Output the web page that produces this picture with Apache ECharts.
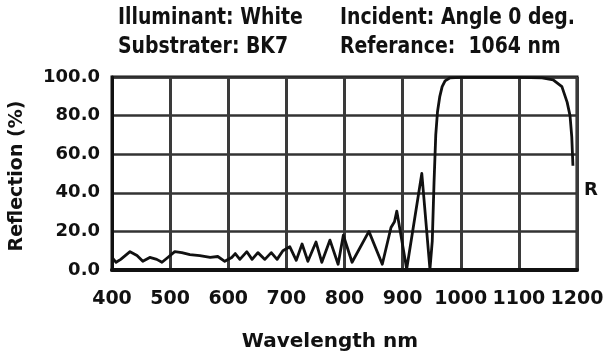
<!DOCTYPE html>
<html><head><meta charset="utf-8">
<script src="https://cdn.jsdelivr.net/npm/echarts@6/dist/echarts.min.js"></script>
<style>html,body{margin:0;padding:0;background:#fff}#c{width:610px;height:356px}</style>
</head><body><div id="c"></div>
<script>
// Wavelength (nm) sample points
var wavelengths = [400,407,415,431,443,453,465,477,486,496,508,520,534,551,569,582,594,606,612,620,632,641,651,663,674,684,694,706,717,727,737,751,761,775,789,798,813,842,865,880,886,890,907,933,947,951,954,957,960,964,968,973,981,1000,1050,1100,1140,1159,1174,1183,1188,1191,1193];
// Reflection (%) values
var reflection = [6.5,4,5.5,9.5,7.5,4.5,6.5,5.5,4,6.5,9.5,9,8,7.5,6.5,7,4.5,6.5,8.5,5.5,9.5,5.5,9,5.5,9,5.5,10,12,5,13.5,4.5,14.5,4,15.5,3,18,4,20,3,22,25,30.5,0.5,50,0.5,15,45,70,82,90,95,98,99.5,99.8,99.8,99.8,99.5,98.5,95,87,80,69,54];
var xTicks = [400,500,600,700,800,900,1000,1100,1200];
var yTicks = ['0.0','20.0','40.0','60.0','80.0','100.0'];
var headerLeft = ['Illuminant: White','Substrater: BK7'];
var headerRight = ['Incident: Angle 0 deg.','Referance:  1064 nm'];
var xName = 'Wavelength nm';
var yName = 'Reflection (%)';
var seriesName = 'R';

var pts = wavelengths.map(function(w,i){return [w, reflection[i]];});
var F = 'DejaVu Sans';
var chart = echarts.init(document.getElementById('c'), null, {renderer:'canvas'});
function hdr(t, x, y){
  return {type:'text', x:x, y:y, scaleX:0.82, style:{text:t, font:'bold 23px "DejaVu Sans"', fill:'#111', verticalAlign:'middle'}};
}
chart.setOption({
  animation:false,
  grid:{left:112, top:77, width:465, height:193, show:true, borderColor:'#111', borderWidth:3, containLabel:false},
  xAxis:{type:'value', min:400, max:1200, interval:100,
    axisLine:{show:true, lineStyle:{color:'#111', width:4}},
    axisTick:{show:false},
    splitLine:{show:true, lineStyle:{color:'#3a3a3a', width:3}},
    axisLabel:{margin:20, fontFamily:F, fontWeight:'bold', fontSize:19, color:'#111', showMinLabel:true, showMaxLabel:true,
      formatter:function(v){var i=xTicks.indexOf(v); return i>=0? String(xTicks[i]) : '';}}
  },
  yAxis:{type:'value', min:0, max:100, interval:20,
    axisLine:{show:true, lineStyle:{color:'#111', width:3}},
    axisTick:{show:false},
    splitLine:{show:true, lineStyle:{color:'#333', width:2.5}},
    axisLabel:{margin:12, fontFamily:F, fontWeight:'bold', fontSize:18, color:'#111', showMinLabel:true, showMaxLabel:true,
      formatter:function(v){return yTicks[Math.round(v/20)];}}
  },
  series:[{type:'line', name:seriesName, data:pts, symbol:'none', smooth:false, lineStyle:{color:'#111', width:2.8, join:'round'}, z:5}],
  graphic:[
    hdr(headerLeft[0],118,18), hdr(headerLeft[1],118,47),
    hdr(headerRight[0],340,18), hdr(headerRight[1],340,47),
    {type:'text', x:330, y:342, style:{text:xName, font:'bold 20px "DejaVu Sans"', fill:'#111', align:'center', verticalAlign:'middle'}},
    {type:'text', x:17, y:176, rotation:Math.PI/2, style:{text:yName, font:'bold 19px "DejaVu Sans"', fill:'#111', align:'center', verticalAlign:'middle'}},
    {type:'text', x:591, y:190, style:{text:seriesName, font:'bold 18px "DejaVu Sans"', fill:'#111', align:'center', verticalAlign:'middle'}}
  ]
});
</script></body></html>
